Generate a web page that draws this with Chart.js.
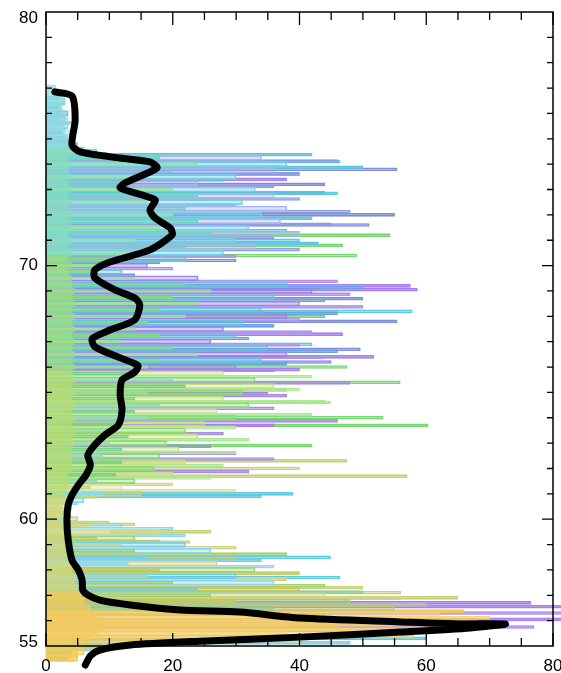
<!DOCTYPE html>
<html>
<head>
<meta charset="utf-8">
<script src="https://cdn.jsdelivr.net/npm/chart.js@4.4.1/dist/chart.umd.min.js"></script>
<style>
  html, body { margin: 0; padding: 0; background: #fff; }
  canvas { display: block; }
</style>
</head>
<body>
<canvas id="profil" width="561" height="673"></canvas>
<script>
// Niveaux (axe vertical) des traces denses
const levels = [
  77, 76.75, 76.5, 76.25, 76, 75.75, 75.5, 75.25, 75, 74.75,
  74.5, 74.25, 74, 73.75, 73.5, 73.25, 73, 72.75, 72.5, 72.25,
  72, 71.75, 71.5, 71.25, 71, 70.75, 70.5, 70.25, 70, 69.75,
  69.5, 69.25, 69, 68.75, 68.5, 68.25, 68, 67.75, 67.5, 67.25,
  67, 66.75, 66.5, 66.25, 66, 65.75, 65.5, 65.25, 65, 64.75,
  64.5, 64.25, 64, 63.75, 63.5, 63.25, 63, 62.75, 62.5, 62.25,
  62, 61.75, 61.5, 61.25, 61, 60.75, 60.5, 60.25, 60, 59.75,
  59.5, 59.25, 59, 58.75, 58.5, 58.25, 58, 57.75, 57.5, 57.25,
  57, 56.75, 56.5, 56.25, 56, 55.75, 55.5, 55.25, 55, 54.75,
  54.5
];
// Colonne pleine le long de l'axe
const coreReach = [
  1.5, 2.5, 3, 2.5, 3, 3.5, 3, 3, 3.5, 3,
  4, 3.5, 4, 3.5, 4, 3.5, 4, 3.5, 4, 3.5,
  4, 3.5, 4, 3.5, 4, 3.5, 4, 3.5, 4, 3.5,
  4, 4, 4.5, 4, 4.5, 4, 4.5, 4, 4.5, 4,
  4.5, 4, 4.5, 4, 4.5, 4, 4.5, 4, 4.5, 4,
  4.5, 4, 4.5, 4, 4.5, 4, 4.5, 4, 4, 4,
  4, 3.5, 3.5, 3.5, 3, 3, 2.5, 2.5, 2.5, 2.5,
  3, 3, 3, 3.5, 3.5, 4, 4, 4.5, 4.5, 5,
  5.5, 6, 7, 8, 9, 9, 8, 7, 6, 5,
  4.5
];
// Traces courtes près du profil moyen
const innerReach = [
  null, null, null, 2, 2.5, 2, 3, 2.5, 3.5, 4,
  6, 18, 24, 20, 14, 12, 20, 24, 16, 22,
  20, 24, 18, 26, 14, 22, 16, 12, 9, 8,
  14, 22, 26, 20, 24, 18, 22, 16, 14, 18,
  12, 20, 24, 18, 16, 14, 20, 22, 16, 14,
  18, 14, 16, 12, 10, 13, 10, 12, 9, 12,
  9, 11, 8, 7, 9, 4, 3, 3, 3.5, 7,
  10, 8, 12, 14, 16, 13, 18, 16, 20, 24,
  26, 30, 36, 44, 50, 46, 38, 28, 9, 4,
  3.5
];
// Faisceau dense des profils individuels
const bodyReach = [
  null, null, 3, 2.5, 3.5, 3, 3.5, 4, 3, 5,
  8, 34, 38, 36, 30, 24, 33, 36, 31, 38,
  34, 37, 32, 40, 30, 33, 28, 22, 16, 12,
  24, 38, 42, 36, 40, 34, 38, 31, 28, 30,
  26, 35, 38, 34, 30, 28, 33, 36, 31, 28,
  32, 27, 30, 25, 22, 24, 19, 21, 18, 22,
  17, 20, 14, 12, 15, 6, 4, 3.5, 5, 12,
  18, 14, 22, 26, 30, 27, 33, 30, 36, 40,
  44, 48, 55, 62, 68, 64, 55, 40, 12, 6,
  5
];
// Niveaux intermédiaires
const midLevels = [
  76.875, 76.625, 76.375, 76.125, 75.875, 75.625, 75.375, 75.125, 74.875, 74.625,
  74.375, 74.125, 73.875, 73.625, 73.375, 73.125, 72.875, 72.625, 72.375, 72.125,
  71.875, 71.625, 71.375, 71.125, 70.875, 70.625, 70.375, 70.125, 69.875, 69.625,
  69.375, 69.125, 68.875, 68.625, 68.375, 68.125, 67.875, 67.625, 67.375, 67.125,
  66.875, 66.625, 66.375, 66.125, 65.875, 65.625, 65.375, 65.125, 64.875, 64.625,
  64.375, 64.125, 63.875, 63.625, 63.375, 63.125, 62.875, 62.625, 62.375, 62.125,
  61.875, 61.625, 61.375, 61.125, 60.875, 60.625, 60.375, 60.125, 59.875, 59.625,
  59.375, 59.125, 58.875, 58.625, 58.375, 58.125, 57.875, 57.625, 57.375, 57.125,
  56.875, 56.625, 56.375, 56.125, 55.875, 55.625, 55.375, 55.125, 54.875, 54.625
];
const midReach = [
  null, 2, 3, 2.5, 3, 4, 3, 3.5, 4, 6,
  42, 46, 50, 40, 28, 36, 44, 40, 30, 48,
  42, 45, 38, 36, 43, 40, 30, 18, 20, 14,
  46, 50, 48, 44, 50, 46, 40, 36, 42, 32,
  40, 46, 44, 38, 36, 42, 48, 40, 38, 44,
  36, 42, 46, 30, 28, 32, 26, 30, 36, 28,
  32, 26, 20, 30, 8, 5, 4, 4, 10, 20,
  22, 18, 30, 38, 34, 36, 40, 38, 44, 50,
  56, 60, 66, 70, 70, 66, 58, 48, 8, 5
];

// Pointes les plus longues, par couleur
const cyanSpikeY = [74.1, 73.6, 72.85, 71.0, 68.2, 66.9, 65.1, 61.0, 60.9, 58.5, 57.7, 55.3];
const cyanSpikeX = [46.4, 40, 46, 40, 57.8, 42, 38, 39, 34, 44.9, 46.4, 60];
const blueSpikeY = [73.8, 73.2, 72.0, 71.6, 70.2, 68.7, 67.8, 66.7, 66.2];
const blueSpikeX = [55.4, 44, 55, 51, 30, 50, 55.4, 49.6, 45];
const purpleSpikeY = [73.4, 69.2, 69.05, 67.3, 66.4, 65.9, 64.95, 63.7, 62.6, 56.7, 56.55, 56.3, 56.05, 55.75];
const purpleSpikeX = [38, 57.5, 58.6, 46.8, 51.7, 40, 35, 36, 30, 76.5, 84, 84, 84, 77];
const greenSpikeY = [71.2, 70.8, 70.4, 68.0, 66.0, 65.4, 64.0, 63.7, 62.9];
const greenSpikeX = [54.3, 46.8, 49, 44, 47.5, 55.9, 53.2, 60.3, 42];
const oliveSpikeY = [64.6, 62.3, 62.0, 61.7, 59.8, 59.5, 59.1, 57.3, 57.1, 56.9];
const oliveSpikeX = [44.9, 47.5, 40, 57, 14, 26, 22.7, 50, 56, 65];

// Profil moyen (trait noir épais)
const blackY = [76.85, 76.69, 75.74, 74.76, 74.48, 74.24, 74.09, 73.85, 73.26, 73.06,
  72.59, 72.19, 71.88, 71.48, 71.21, 70.62, 70.14, 69.83, 69.51, 69.04,
  68.72, 68.45, 67.86, 67.46, 67.12, 66.8, 66.36, 66.06, 65.8, 65.49,
  64.9, 64.31, 63.71, 63.32, 62.93, 62.53, 62.14, 61.74, 61.35, 60.95,
  60.56, 59.97, 59.18, 58.39, 58.0, 57.6, 57.21, 57.01, 56.81, 56.62,
  56.42, 56.34, 56.1, 55.95, 55.87, 55.87, 55.71, 55.55, 55.35, 55.19,
  55.04, 54.84, 54.61, 54.25];
const blackX = [1.4, 4.1, 4.6, 4.1, 5.4, 11.7, 16.4, 17.5, 12.5, 11.7,
  17.2, 16.4, 17.2, 19.6, 19.9, 16.4, 10.1, 7.7, 7.7, 10.9,
  14.0, 14.8, 14.0, 10.1, 7.3, 7.7, 11.7, 14.5, 14.0, 12.0,
  11.7, 12.0, 11.4, 9.3, 7.7, 6.6, 7.0, 6.3, 5.1, 4.1,
  3.5, 3.3, 3.5, 4.1, 5.1, 5.7, 5.8, 6.6, 8.5, 13.3,
  21.2, 30.6, 40.1, 55.9, 65.4, 72.5, 67.0, 55.9, 40.1, 24.3,
  13.3, 8.5, 7.0, 6.2];

// Graduations
const xTickValues = [0, 5, 10, 15, 20, 25, 30, 35, 40, 45, 50, 55, 60, 65, 70, 75, 80];
const xLabelValues = [0, 20, 40, 60, 80];
const yTickValues = [56, 57, 58, 59, 60, 61, 62, 63, 64, 65, 66, 67, 68, 69, 70, 71, 72, 73, 74, 75, 76, 77, 78, 79];
const yLabelValues = [55, 60, 70, 80];

function tint(hex, a) {
  const n = parseInt(hex.slice(1), 16);
  return `rgba(${n >> 16},${(n >> 8) & 255},${n & 255},${a})`;
}

// Palette selon l'altitude
function palette(y) {
  if (y >= 74.6) return ['#84d6e4', '#9cc9ee', '#6cc4d4', '#a9e2ee'];
  if (y >= 70.5) return ['#74cfe6', '#8a9ee2', '#6fd4c4', '#a6b4ee', '#62c0dc', '#94e2aa'];
  if (y >= 66)   return ['#9c84ea', '#6aa2e2', '#82dc86', '#66c4de', '#b096ee', '#94e29c'];
  if (y >= 61.4) return ['#8cdc74', '#acea96', '#78d48a', '#c2e088', '#a88ee2', '#98dcae'];
  if (y >= 59.5) return ['#d2dc90', '#8adcea', '#c4d680', '#dfe4a4'];
  if (y >= 57.2) return ['#78cce4', '#bfca68', '#a4d272', '#92d8e8', '#cfd486'];
  if (y >= 56.5) return ['#c0cc66', '#a8d070', '#d0d488', '#8ccfa0'];
  if (y >= 55.2) return ['#f2c75c', '#f4d072', '#e9c860', '#f6d680'];
  return ['#f2c75c', '#88d2e4', '#a4d086'];
}

function coreColor(y) {
  if (y >= 74.6) return '#8fd8e0';
  if (y >= 70.5) return '#86dcc0';
  if (y >= 66) return '#9ade84';
  if (y >= 61) return '#b6dc74';
  if (y >= 57.2) return '#d2d67c';
  return '#f2c95e';
}

function pick(c, shift) {
  if (!c.raw) return '#cccccc';
  const pal = palette(c.raw.y);
  return pal[(c.dataIndex * 3 + shift) % pal.length];
}

function points(ys, xs) {
  return ys.map((y, i) => ({ y, x: xs[i] })).filter(p => p.x !== null);
}

function streaks(reach, thickness, shift, alpha, order) {
  return {
    type: 'bar',
    data: points(reach === midReach ? midLevels : levels, reach),
    barThickness: thickness,
    grouped: false,
    borderWidth: 1,
    borderSkipped: false,
    borderColor: c => pick(c, shift),
    backgroundColor: c => tint(pick(c, shift), alpha),
    clip: false,
    order
  };
}

function spikeSet(ys, xs, color) {
  return {
    type: 'bar',
    data: points(ys, xs),
    barThickness: 3,
    grouped: false,
    borderWidth: 1,
    borderSkipped: false,
    borderColor: color,
    backgroundColor: tint(color, 0.15),
    clip: false,
    order: 5
  };
}

// Cadre, graduations intérieures et étiquettes
const cadre = {
  id: 'cadre',
  afterDraw(chart) {
    const { ctx, chartArea: a, scales: { x, y } } = chart;
    ctx.save();
    ctx.strokeStyle = '#000';
    ctx.lineWidth = 1.5;
    ctx.strokeRect(a.left, a.top, a.right - a.left, a.bottom - a.top);
    ctx.lineWidth = 1.3;
    ctx.beginPath();
    xTickValues.forEach(v => {
      const px = x.getPixelForValue(v);
      const len = xLabelValues.includes(v) ? 13 : 8;
      ctx.moveTo(px, a.bottom); ctx.lineTo(px, a.bottom - len);
      ctx.moveTo(px, a.top); ctx.lineTo(px, a.top + len);
    });
    yTickValues.forEach(v => {
      const py = y.getPixelForValue(v);
      const len = yLabelValues.includes(v) ? 11 : 6;
      ctx.moveTo(a.left, py); ctx.lineTo(a.left + len, py);
      ctx.moveTo(a.right, py); ctx.lineTo(a.right - len, py);
    });
    ctx.stroke();

    ctx.fillStyle = '#000';
    ctx.font = '17px "Liberation Sans", Arial, sans-serif';
    ctx.textAlign = 'center';
    ctx.textBaseline = 'alphabetic';
    xLabelValues.forEach(v => ctx.fillText(String(v), x.getPixelForValue(v), 671));
    ctx.textAlign = 'right';
    ctx.textBaseline = 'middle';
    yLabelValues.forEach(v => {
      let py = y.getPixelForValue(v);
      if (v === 80) py += 6;
      if (v === 55) py -= 4;
      ctx.fillText(String(v), 38, py);
    });
    ctx.restore();
  }
};

const ctx = document.getElementById('profil').getContext('2d');

new Chart(ctx, {
  type: 'bar',
  data: {
    datasets: [
      {
        type: 'line',
        data: points(blackY, blackX),
        borderColor: '#000',
        borderWidth: 7,
        borderJoinStyle: 'round',
        borderCapStyle: 'round',
        pointRadius: 0,
        tension: 0.25,
        fill: false,
        clip: false,
        order: 0
      },
      {
        type: 'bar',
        data: points(levels, coreReach),
        barThickness: 6,
        grouped: false,
        borderWidth: 0,
        backgroundColor: c => c.raw ? tint(coreColor(c.raw.y), 0.75) : '#ccc',
        clip: false,
        order: 1
      },
      streaks(innerReach, 3, 2, 0.35, 2),
      streaks(bodyReach, 5, 0, 0.4, 3),
      streaks(midReach, 3, 1, 0.25, 4),
      spikeSet(cyanSpikeY, cyanSpikeX, '#5fcbe0'),
      spikeSet(blueSpikeY, blueSpikeX, '#7f8ed6'),
      spikeSet(purpleSpikeY, purpleSpikeX, '#a87ff0'),
      spikeSet(greenSpikeY, greenSpikeX, '#78d870'),
      spikeSet(oliveSpikeY, oliveSpikeX, '#c8d27a')
    ]
  },
  options: {
    indexAxis: 'y',
    responsive: false,
    animation: false,
    devicePixelRatio: 1,
    layout: { padding: { left: 46, right: 8, top: 12, bottom: 27 } },
    plugins: {
      legend: { display: false },
      tooltip: { enabled: false }
    },
    scales: {
      x: { type: 'linear', min: 0, max: 80, display: false },
      y: { type: 'linear', min: 55, max: 80, offset: false, display: false }
    }
  },
  plugins: [cadre]
});
</script>
</body>
</html>
